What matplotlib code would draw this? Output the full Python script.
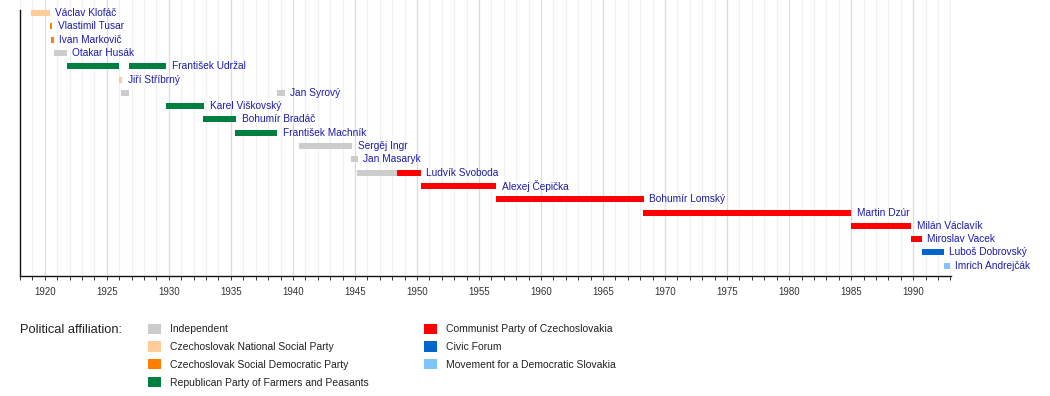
import matplotlib
matplotlib.use('Agg')
import matplotlib.pyplot as plt
from matplotlib.patches import Patch
from matplotlib.ticker import MultipleLocator

plt.rcParams['font.family'] = ['Liberation Sans', 'DejaVu Sans']

# ministers, in row order
names = ['Václav Klofáč', 'Vlastimil Tusar', 'Ivan Markovič', 'Otakar Husák',
         'František Udržal', 'Jiří Stříbrný', 'Jan Syrový', 'Karel Viškovský',
         'Bohumír Bradáč', 'František Machník', 'Sergěj Ingr', 'Jan Masaryk',
         'Ludvík Svoboda', 'Alexej Čepička', 'Bohumír Lomský', 'Martin Dzúr',
         'Milán Václavík', 'Miroslav Vacek', 'Luboš Dobrovský', 'Imrich Andrejčák']

# terms of office (one person may hold several)
term_person = ['Václav Klofáč', 'Vlastimil Tusar', 'Ivan Markovič', 'Otakar Husák',
               'František Udržal', 'Jiří Stříbrný', 'Jan Syrový', 'František Udržal',
               'Karel Viškovský', 'Bohumír Bradáč', 'František Machník', 'Jan Syrový',
               'Sergěj Ingr', 'Jan Masaryk', 'Ludvík Svoboda', 'Ludvík Svoboda',
               'Alexej Čepička', 'Bohumír Lomský', 'Martin Dzúr', 'Milán Václavík',
               'Miroslav Vacek', 'Luboš Dobrovský', 'Imrich Andrejčák']
term_start = [1918.86, 1920.41, 1920.52, 1920.73, 1921.76, 1925.97, 1926.16, 1926.75,
              1929.73, 1932.79, 1935.36, 1938.69, 1940.52, 1944.70, 1945.18, 1948.38,
              1950.31, 1956.38, 1968.24, 1985.00, 1989.85, 1990.70, 1992.45]
term_end = [1920.41, 1920.60, 1920.73, 1921.76, 1926.02, 1926.24, 1926.80, 1929.78,
            1932.84, 1935.45, 1938.72, 1939.33, 1944.76, 1945.24, 1948.38, 1950.31,
            1956.38, 1968.28, 1985.00, 1989.85, 1990.70, 1992.45, 1992.94]
term_party = ['NS', 'SD', 'SD', 'IND', 'RP', 'NS', 'IND', 'RP',
              'RP', 'RP', 'RP', 'IND', 'IND', 'IND', 'IND', 'KSC',
              'KSC', 'KSC', 'KSC', 'KSC', 'KSC', 'OF', 'HZDS']

party_keys = ['IND', 'NS', 'SD', 'RP', 'KSC', 'OF', 'HZDS']
party_labels = ['Independent', 'Czechoslovak National Social Party',
                'Czechoslovak Social Democratic Party',
                'Republican Party of Farmers and Peasants',
                'Communist Party of Czechoslovakia', 'Civic Forum',
                'Movement for a Democratic Slovakia']
party_colors = ['#cccccc', '#ffcc99', '#ff8000', '#008040',
                '#ff0000', '#0066cc', '#80c4ff']

W, H = 1050, 396
fig = plt.figure(figsize=(W / 100, H / 100), dpi=100)
# axes box in pixels: x 20..951, y 0..276
ax = fig.add_axes([20 / W, 1 - 276 / H, (951 - 20) / W, 276 / H])

color_of = dict(zip(party_keys, party_colors))
row_of = {n: i for i, n in enumerate(names)}

for p, s, e, party in zip(term_person, term_start, term_end, term_party):
  ax.barh(row_of[p], e - s, left=s, height=0.45, color=color_of[party],
          linewidth=0, zorder=3)

# label after the last term of each person
last_end = {}
for p, e in zip(term_person, term_end):
  last_end[p] = max(last_end.get(p, 0), e)
for n in names:
  ax.annotate(n, (last_end[n], row_of[n]), xytext=(4, 0),
              textcoords='offset points', va='center', ha='left',
              fontsize=7.3, color='#1c1caa', zorder=4)

ax.set_xlim(1918, 1993.05)
ax.set_ylim(19.77, -0.98)
ax.xaxis.set_major_locator(MultipleLocator(5))
ax.xaxis.set_minor_locator(MultipleLocator(1))
ax.set_yticks([])
ax.grid(which='minor', axis='x', color='#f1f1f1', linewidth=0.9, zorder=0)
ax.grid(which='major', axis='x', color='#dcdcdc', linewidth=0.9, zorder=0)
ax.set_axisbelow(True)
ax.tick_params(axis='x', which='both', length=3, width=0.7, color='#333333',
               labelsize=7, labelcolor='#333333', pad=5)
for side in ['top', 'right']:
  ax.spines[side].set_visible(False)
ax.spines['left'].set_bounds(19.77, -0.23)
for side in ['left', 'bottom']:
  ax.spines[side].set_linewidth(1)
  ax.spines[side].set_color('#111111')

# legend
fig.text(20 / W, 1 - 330 / H, 'Political affiliation:', fontsize=9.3,
         va='center', ha='left', color='#222222')
handles = [Patch(facecolor=c, edgecolor='none') for c in party_colors]
fig.legend(handles, party_labels, loc='upper left',
           bbox_to_anchor=(148 / W, 1 - 323.5 / H), ncol=2, frameon=False,
           fontsize=7.5, handlelength=1.25, handleheight=1.15,
           handletextpad=0.85, labelspacing=0.68, columnspacing=5.3,
           borderpad=0, borderaxespad=0, labelcolor='#222222')

fig.savefig('out.png', dpi=100)
